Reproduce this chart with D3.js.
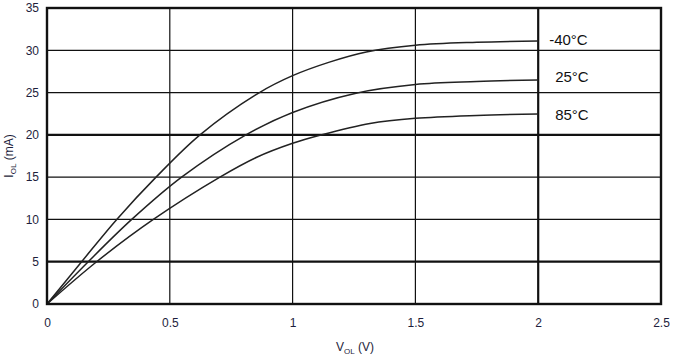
<!DOCTYPE html>
<html><head><meta charset="utf-8">
<script src="https://cdn.jsdelivr.net/npm/d3@7"></script>
<style>body{margin:0;background:#fff}svg{display:block}text{font-family:"Liberation Sans",Arial,sans-serif}</style>
</head><body><svg id="c" width="673" height="357"></svg>
<script>
const xTicks = [0, 0.5, 1, 1.5, 2, 2.5];
const yTicks = [0, 5, 10, 15, 20, 25, 30, 35];
const thickX = [2];
const thickY = [5, 20];
const seriesNames = ["-40°C", "25°C", "85°C"];
const vM40 = [0, 0.141, 0.284, 0.444, 0.623, 0.865, 1.0, 1.15, 1.3, 1.5, 1.75, 2.0];
const iM40 = [0, 5, 10, 15, 20, 25, 27.0, 28.6, 29.8, 30.6, 30.95, 31.1];
const v25 = [0, 0.168, 0.345, 0.548, 0.81, 1.0, 1.254, 1.5, 1.75, 2.0];
const i25 = [0, 5, 10, 15, 20, 22.65, 24.9, 25.95, 26.3, 26.5];
const v85 = [0, 0.202, 0.433, 0.704, 0.854, 1.0, 1.111, 1.315, 1.5, 1.75, 2.0];
const i85 = [0, 5, 10, 15, 17.35, 19.0, 19.95, 21.35, 21.96, 22.3, 22.47];
const labelPos = [40, 77, 115];

const svg = d3.select("#c");
const x = d3.scaleLinear().domain([0, 2.5]).range([47, 661]);
const y = d3.scaleLinear().domain([0, 35]).range([304, 8]);
const txt = "#1e1e3c";

// grid
const g = svg.append("g");
g.selectAll(".gx").data(xTicks.slice(1, -1)).enter().append("line")
  .attr("x1", d => x(d)).attr("x2", d => x(d)).attr("y1", y(0)).attr("y2", y(35))
  .attr("stroke", "#111").attr("stroke-width", d => thickX.includes(d) ? 2.2 : 1.2);
g.selectAll(".gy").data(yTicks.slice(1, -1)).enter().append("line")
  .attr("x1", x(0)).attr("x2", x(2.5)).attr("y1", d => y(d)).attr("y2", d => y(d))
  .attr("stroke", "#111").attr("stroke-width", d => thickY.includes(d) ? 2.2 : 1.2);

// curves
const series = [[vM40, iM40], [v25, i25], [v85, i85]];
const line = d3.line().x(d => x(d[0])).y(d => y(d[1])).curve(d3.curveCatmullRom.alpha(0.5));
series.forEach(([vs, is]) => {
  svg.append("path").datum(vs.map((v, k) => [v, is[k]]))
    .attr("d", line).attr("fill", "none").attr("stroke", "#222").attr("stroke-width", 1.5);
});

// border
svg.append("rect").attr("x", x(0)).attr("y", y(35)).attr("width", x(2.5) - x(0)).attr("height", y(0) - y(35))
  .attr("fill", "none").attr("stroke", "#111").attr("stroke-width", 2.4);

// axes
const xa = svg.append("g").attr("transform", `translate(0,${y(0)})`)
  .call(d3.axisBottom(x).tickValues(xTicks).tickSize(0).tickPadding(14).tickFormat(d3.format("")));
xa.select(".domain").remove();
xa.selectAll("text").attr("font-size", 12).attr("fill", txt).attr("font-family", "Liberation Sans, Arial, sans-serif");
const ya = svg.append("g").attr("transform", `translate(${x(0)},0)`)
  .call(d3.axisLeft(y).tickValues(yTicks).tickSize(0).tickPadding(8));
ya.select(".domain").remove();
ya.selectAll("text").attr("font-size", 12).attr("fill", txt).attr("font-family", "Liberation Sans, Arial, sans-serif");

// labels
const xl = svg.append("text").attr("x", 355).attr("y", 351).attr("text-anchor", "middle")
  .attr("font-size", 12).attr("fill", txt);
xl.append("tspan").text("V");
xl.append("tspan").text("OL").attr("font-size", 8).attr("dy", 3);
xl.append("tspan").text(" (V)").attr("dy", -3);

const yl = svg.append("text").attr("transform", `translate(13,156) rotate(-90)`).attr("text-anchor", "middle")
  .attr("font-size", 12).attr("fill", txt);
yl.append("tspan").text("I");
yl.append("tspan").text("OL").attr("font-size", 8).attr("dy", 3);
yl.append("tspan").text(" (mA)").attr("dy", -3);

seriesNames.forEach((n, k) => {
  svg.append("text").attr("x", k === 0 ? x(2) + 11 : x(2) + 17).attr("y", labelPos[k] + 5)
    .attr("font-size", 15).attr("fill", "#111").text(n);
});
</script></body></html>
